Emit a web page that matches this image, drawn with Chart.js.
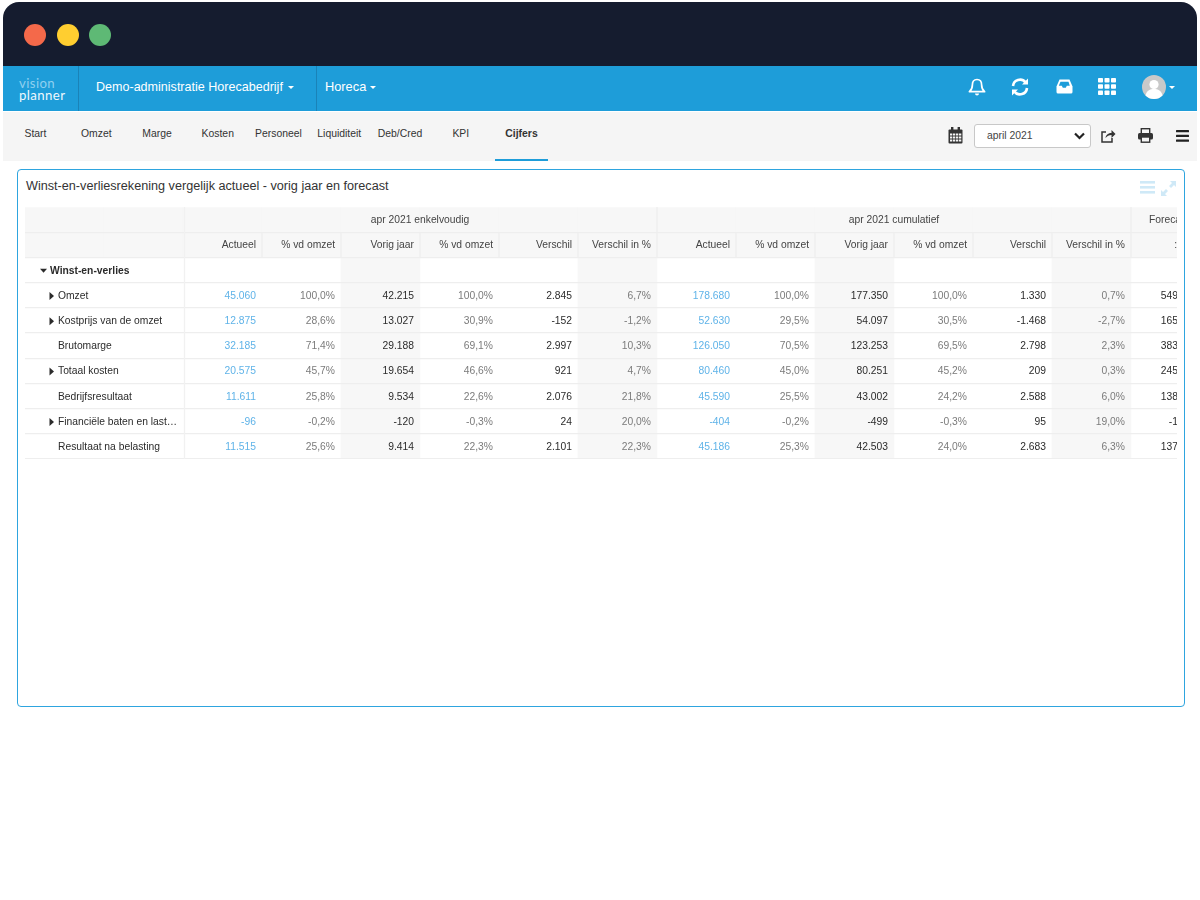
<!DOCTYPE html>
<html>
<head>
<meta charset="utf-8">
<title>Winst-en-verliesrekening</title>
<script src="https://cdn.jsdelivr.net/npm/chart.js@4"></script>
<style>
html, body { margin: 0; padding: 0; background: #fff; }
body { width: 1200px; height: 900px; position: relative; overflow: hidden; font-family: "Liberation Sans", Arial, sans-serif; }
.abs { position: absolute; }
.txt { position: absolute; white-space: nowrap; line-height: 1; }
.tab { position: absolute; top: 128px; font-size: 10.4px; line-height: 12px; color: #333; transform: translateX(-50%); white-space: nowrap; }
svg { position: absolute; overflow: visible; }
#tableWrap { position: absolute; left: 25px; top: 207px; width: 1152px; height: 254px; overflow: hidden; }
</style>
</head>
<body>
<!-- window -->
<div class="abs" style="left:3px;top:2px;width:1194px;height:64px;background:#151c2f;border-radius:16px 16px 0 0"></div>
<div class="abs" style="left:24px;top:24px;width:22px;height:22px;border-radius:50%;background:#f4694a"></div>
<div class="abs" style="left:57px;top:24px;width:22px;height:22px;border-radius:50%;background:#ffce30"></div>
<div class="abs" style="left:89px;top:24px;width:22px;height:22px;border-radius:50%;background:#5eb975"></div>

<!-- blue nav bar -->
<div class="abs" style="left:3px;top:66px;width:1194px;height:45px;background:#1e9dd9"></div>
<div class="abs" style="left:78px;top:66px;width:1px;height:45px;background:#1a83b8"></div>
<div class="abs" style="left:316px;top:66px;width:1px;height:45px;background:#1a83b8"></div>
<div class="txt" style="left:19px;top:75px;font:400 13.2px Lato,sans-serif;color:#8fd0f0;letter-spacing:.4px">vision</div>
<div class="txt" style="left:19px;top:87px;font:400 13.2px Lato,sans-serif;color:#eef8fd;letter-spacing:.4px">planner</div>
<div class="txt" style="left:96px;top:81px;font-size:12.55px;color:#fff">Demo-administratie Horecabedrijf</div>
<div class="abs" style="left:288px;top:86px;border:3px solid transparent;border-top-color:#fff"></div>
<div class="txt" style="left:325px;top:81px;font-size:12.8px;color:#fff">Horeca</div>
<div class="abs" style="left:370px;top:86px;border:3px solid transparent;border-top-color:#fff"></div>

<!-- nav icons -->
<svg style="left:968px;top:77px" width="18" height="20" viewBox="0 0 18 20" fill="none" stroke="#fff" stroke-width="1.7">
  <path d="M9 2.5c-3.2 0-4.6 2.4-4.6 5.2 0 3.6-1 5.4-3 7h15.2c-2-1.6-3-3.4-3-7 0-2.8-1.4-5.2-4.6-5.2z" stroke-linejoin="round"/>
  <path d="M7 16.5a2 2 0 0 0 4 0z" fill="#fff" stroke="none"/>
</svg>
<svg style="left:1010px;top:77px" width="20" height="20" viewBox="0 0 20 20" fill="none" stroke="#fff" stroke-width="2.6">
  <path d="M3 9a7 7 0 0 1 12.5-3.6"/><path d="M17 11a7 7 0 0 1-12.5 3.6"/>
  <path d="M18 1.5v6h-6z" fill="#fff" stroke="none"/><path d="M2 18.500v-6h6z" fill="#fff" stroke="none"/>
</svg>
<svg style="left:1056px;top:79px" width="17" height="15" viewBox="0 0 17 15">
  <path d="M3.500 0.500h10l3 7v5.500a1.500 1.500 0 0 1-1.500 1.500h-13a1.500 1.500 0 0 1-1.500-1.500v-5.500z" fill="#fff"/>
  <path d="M4.500 2.800h8l1.300 4h-3l-1 2h-3l-1-2h-3z" fill="#1e9dd9"/>
</svg>
<svg style="left:1098px;top:78px" width="18" height="17" viewBox="0 0 18 17" fill="#fff">
  <rect x="0" y="0" width="5" height="4.600" rx=".8"/><rect x="6.500" y="0" width="5" height="4.600" rx=".8"/><rect x="13" y="0" width="5" height="4.600" rx=".8"/>
  <rect x="0" y="6.200" width="5" height="4.600" rx=".8"/><rect x="6.500" y="6.200" width="5" height="4.600" rx=".8"/><rect x="13" y="6.200" width="5" height="4.600" rx=".8"/>
  <rect x="0" y="12.400" width="5" height="4.600" rx=".8"/><rect x="6.500" y="12.400" width="5" height="4.600" rx=".8"/><rect x="13" y="12.400" width="5" height="4.600" rx=".8"/>
</svg>
<svg style="left:1142px;top:75px" width="24" height="24" viewBox="0 0 24 24">
  <circle cx="12" cy="12" r="12" fill="#c9c9c9"/>
  <circle cx="12" cy="9.500" r="4.600" fill="#fff"/>
  <path d="M3.500 20.500c1-5 4.500-6.500 8.500-6.500s7.500 1.500 8.500 6.500a12 12 0 0 1-17 0z" fill="#fff"/>
</svg>
<div class="abs" style="left:1169px;top:86px;border:3px solid transparent;border-top-color:#fff"></div>

<!-- tab bar -->
<div class="abs" style="left:3px;top:112px;width:1194px;height:49px;background:#f5f5f5"></div>
<div class="abs" style="left:495px;top:159px;width:53px;height:2px;background:#1e9dd9"></div>
<div id="tabs"></div>

<!-- toolbar right -->
<svg style="left:948px;top:127px" width="15" height="17" viewBox="0 0 15 17">
  <rect x="0.500" y="2.500" width="14" height="14" rx="1" fill="#333"/>
  <rect x="3" y="0" width="2.400" height="4" fill="#333"/><rect x="9.600" y="0" width="2.400" height="4" fill="#333"/>
  <g fill="#f5f5f5">
    <rect x="2" y="6.500" width="2.300" height="2"/><rect x="5" y="6.500" width="2.300" height="2"/><rect x="8" y="6.500" width="2.300" height="2"/><rect x="11" y="6.500" width="2.300" height="2"/>
    <rect x="2" y="9.500" width="2.300" height="2"/><rect x="5" y="9.500" width="2.300" height="2"/><rect x="8" y="9.500" width="2.300" height="2"/><rect x="11" y="9.500" width="2.300" height="2"/>
    <rect x="2" y="12.500" width="2.300" height="2"/><rect x="5" y="12.500" width="2.300" height="2"/><rect x="8" y="12.500" width="2.300" height="2"/><rect x="11" y="12.500" width="2.300" height="2"/>
  </g>
</svg>
<div class="abs" style="left:974px;top:124px;width:115px;height:22px;background:#fff;border:1px solid #c8c8c8;border-radius:3px"></div>
<div class="txt" style="left:987px;top:131px;font-size:10.4px;color:#444">april 2021</div>
<svg style="left:1074px;top:132px" width="11" height="8" viewBox="0 0 11 8" fill="none" stroke="#222" stroke-width="2.200"><path d="M1 1.500l4.500 4.500 4.500-4.500"/></svg>
<svg style="left:1101px;top:129px" width="15" height="14" viewBox="0 0 15 14" fill="none" stroke="#333" stroke-width="1.500">
  <path d="M5 3h-4v10h10v-4"/><path d="M4.500 9c.5-3.500 3-5 6-5v-3l4 4-4 4v-3c-2.500 0-4.500 1-6 3z" fill="#333" stroke="none"/>
</svg>
<svg style="left:1138px;top:128px" width="15" height="15" viewBox="0 0 15 15">
  <rect x="3.300" y="0.700" width="8.400" height="5" fill="none" stroke="#333" stroke-width="1.400"/>
  <rect x="0" y="5" width="15" height="6.500" rx="1.500" fill="#333"/>
  <rect x="3.300" y="9" width="8.400" height="5.200" fill="#f5f5f5" stroke="#333" stroke-width="1.400"/>
</svg>
<svg style="left:1176px;top:130px" width="13" height="12" viewBox="0 0 13 12" fill="#222">
  <rect width="13" height="2.200" rx=".5"/><rect y="4.800" width="13" height="2.200" rx=".5"/><rect y="9.600" width="13" height="2.200" rx=".5"/>
</svg>

<!-- panel -->
<div class="abs" style="left:17px;top:169px;width:1166px;height:536px;border:1.500px solid #2ea5df;border-radius:4px;background:#fff"></div>
<div class="txt" style="left:26px;top:180px;font-size:12.650px;color:#333">Winst-en-verliesrekening vergelijk actueel - vorig jaar en forecast</div>
<svg style="left:1140px;top:181px" width="15" height="13" viewBox="0 0 15 13" fill="#cfe9f7">
  <rect width="15" height="2.600"/><rect y="5" width="15" height="2.600"/><rect y="10" width="15" height="2.600"/>
</svg>
<svg style="left:1161px;top:181px" width="15" height="15" viewBox="0 0 15 15" fill="#cfe9f7">
  <path d="M9 0h6v6l-2-2-3 3-2-2 3-3z"/><path d="M6 15h-6v-6l2 2 3-3 2 2-3 3z"/>
</svg>

<div id="tableWrap"><canvas id="pnlChart" width="1185" height="252"></canvas></div>

<script>
var tabLabels = ["Start","Omzet","Marge","Kosten","Personeel","Liquiditeit","Deb/Cred","KPI","Cijfers"];

var rowLabels = ["Omzet","Kostprijs van de omzet","Brutomarge","Totaal kosten","Bedrijfsresultaat","Financiële baten en last…","Resultaat na belasting"];
var rowExpandable = [true,true,false,true,false,true,false];
var groupLabel = "Winst-en-verlies";

var columnKeys = ["naam","naam2","act1","actPct1","vj1","vjPct1","ver1","verPct1","act2","actPct2","vj2","vjPct2","ver2","verPct2","fc"];
var subHeaders = ["Actueel","% vd omzet","Vorig jaar","% vd omzet","Verschil","Verschil in %"];
var periodSingle = "apr 2021 enkelvoudig";
var periodCumulative = "apr 2021 cumulatief";
var periodForecast = "Forecast";

// apr 2021 enkelvoudig
var actueel1 = [45060,12875,32185,20575,11611,-96,11515];
var actueelPct1 = [100.0,28.6,71.4,45.7,25.8,-0.2,25.6];
var vorigJaar1 = [42215,13027,29188,19654,9534,-120,9414];
var vorigPct1 = [100.0,30.9,69.1,46.6,22.6,-0.3,22.3];
var verschil1 = [2845,-152,2997,921,2076,24,2101];
var verschilPct1 = [6.7,-1.2,10.3,4.7,21.8,20.0,22.3];

// apr 2021 cumulatief
var actueel2 = [178680,52630,126050,80460,45590,-404,45186];
var actueelPct2 = [100.0,29.5,70.5,45.0,25.5,-0.2,25.3];
var vorigJaar2 = [177350,54097,123253,80251,43002,-499,42503];
var vorigPct2 = [100.0,30.5,69.5,45.2,24.2,-0.3,24.0];
var verschil2 = [1330,-1468,2798,209,2588,95,2683];
var verschilPct2 = [0.7,-2.7,2.3,0.3,6.0,19.0,6.3];

// forecast column is cut off in the picture, only first digits can be read
var forecast = [549000,165000,383000,245000,138000,-1000,137000];

var BLUE = "#5fb3e8", GREY = "#7b7b7b", DARK = "#2b2b2b";
var FONT = '10.3px "Liberation Sans", Arial, sans-serif';
var TEXT_DROP = 0.8; // text sits a bit under the row centre

tabLabels.forEach(function(t, i){
  var el = document.createElement("div");
  el.className = "tab";
  el.textContent = t;
  el.style.left = (35.5 + i * 60.75) + "px";
  if (t === "Cijfers") { el.style.fontWeight = "bold"; }
  document.getElementById("tabs").appendChild(el);
});

function fmtInt(v){
  var s = Math.abs(v).toString().replace(/\B(?=(\d{3})+$)/g, ".");
  return (v < 0 ? "-" : "") + s;
}
function fmtPct(v){
  return v.toFixed(1).replace(".", ",") + "%";
}

function columnSet(key, values, fmt, color){
  return {
    type: "line",
    showLine: false,
    pointRadius: 0,
    pointHoverRadius: 0,
    cellColor: color,
    cellFormat: fmt,
    cellKey: key,
    data: values.map(function(v, i){ return {x: key, y: i + 3.5, v: v}; })
  };
}

var headerCols = columnKeys.map(function(){ return [0, 2]; });
var shadedCols = columnKeys.map(function(k){ return /^(vj|verPct)\d$/.test(k) ? [2, 10] : null; });

var cellSets = [
  columnSet("act1", actueel1, fmtInt, BLUE),
  columnSet("actPct1", actueelPct1, fmtPct, GREY),
  columnSet("vj1", vorigJaar1, fmtInt, DARK),
  columnSet("vjPct1", vorigPct1, fmtPct, GREY),
  columnSet("ver1", verschil1, fmtInt, DARK),
  columnSet("verPct1", verschilPct1, fmtPct, GREY),
  columnSet("act2", actueel2, fmtInt, BLUE),
  columnSet("actPct2", actueelPct2, fmtPct, GREY),
  columnSet("vj2", vorigJaar2, fmtInt, DARK),
  columnSet("vjPct2", vorigPct2, fmtPct, GREY),
  columnSet("ver2", verschil2, fmtInt, DARK),
  columnSet("verPct2", verschilPct2, fmtPct, GREY),
  columnSet("fc", forecast, fmtInt, DARK)
];

// draws header text, separators and the cell values on top of the scales
var tableText = {
  id: "tableText",
  afterDraw: function(chart){
    var ctx = chart.ctx, x = chart.scales.x, y = chart.scales.y;
    var band = x.getPixelForValue(1) - x.getPixelForValue(0);
    function right(i){ return x.getPixelForValue(i) + band / 2; }
    function left(i){ return x.getPixelForValue(i) - band / 2; }
    function rowY(v){ return y.getPixelForValue(v) + TEXT_DROP; }

    // vertical separators in the header rows
    ctx.save();
    ctx.lineWidth = 1.3;
    function vline(px, from, to){
      ctx.beginPath();
      ctx.moveTo(px, y.getPixelForValue(from));
      ctx.lineTo(px, y.getPixelForValue(to));
      ctx.stroke();
    }
    ctx.strokeStyle = "#f1f1f1";
    vline(left(2) + 1.5, 0, 10);
    ctx.strokeStyle = "#eeeeee";
    [8, 14].forEach(function(i){ vline(left(i), 0, 1); });
    for (var i = 3; i < 15; i++) { vline(left(i), 1, 2); }
    ctx.restore();

    ctx.save();
    ctx.font = FONT;
    ctx.textBaseline = "middle";

    // period headers
    ctx.fillStyle = "#444";
    ctx.textAlign = "center";
    ctx.fillText(periodSingle, left(5), rowY(0.5));
    ctx.fillText(periodCumulative, left(11), rowY(0.5));
    ctx.fillText(periodForecast, x.getPixelForValue(14) - 1.5, rowY(0.5));

    // column headers
    ctx.textAlign = "right";
    for (var c = 2; c < 14; c++) {
      ctx.fillText(subHeaders[(c - 2) % 6], right(c) - 6, rowY(1.5));
    }
    ctx.fillText(":", left(14) + 46, rowY(1.5));

    // row labels
    ctx.textAlign = "left";
    ctx.fillStyle = DARK;
    var rowLeft = left(0);
    ctx.font = 'bold ' + FONT;
    var gy = rowY(2.5);
    ctx.fillText(groupLabel, rowLeft + 25, gy);
    ctx.beginPath();
    ctx.moveTo(rowLeft + 15, gy - 2);
    ctx.lineTo(rowLeft + 22, gy - 2);
    ctx.lineTo(rowLeft + 18.5, gy + 2);
    ctx.closePath();
    ctx.fill();

    ctx.font = FONT;
    rowLabels.forEach(function(name, r){
      var py = rowY(r + 3.5);
      ctx.fillText(name, rowLeft + 33, py);
      if (rowExpandable[r]) {
        ctx.beginPath();
        ctx.moveTo(rowLeft + 24.5, py - 4);
        ctx.lineTo(rowLeft + 29, py);
        ctx.lineTo(rowLeft + 24.5, py + 4);
        ctx.closePath();
        ctx.fill();
      }
    });

    // values
    ctx.textAlign = "right";
    chart.data.datasets.forEach(function(ds, d){
      if (!ds.cellFormat) { return; }
      var pad = ds.cellKey === "fc" ? 12 : 6;
      ctx.fillStyle = ds.cellColor;
      chart.getDatasetMeta(d).data.forEach(function(pt, i){
        ctx.fillText(ds.cellFormat(ds.data[i].v), pt.x + band / 2 - pad, pt.y + TEXT_DROP);
      });
    });
    ctx.restore();
  }
};

var pnlConfig = {
  type: "bar",
  data: {
    labels: columnKeys,
    datasets: [
      { data: headerCols, backgroundColor: "#f7f7f7", barPercentage: 1, categoryPercentage: 1, grouped: false, borderWidth: 0 },
      { data: shadedCols, backgroundColor: "#f7f7f7", barPercentage: 1, categoryPercentage: 1, grouped: false, borderWidth: 0 }
    ].concat(cellSets)
  },
  options: {
    responsive: false,
    animation: false,
    events: [],
    layout: { padding: 0 },
    plugins: { legend: { display: false }, tooltip: { enabled: false }, title: { display: false } },
    scales: {
      x: { display: false, offset: true },
      y: {
        min: 0, max: 10, reverse: true,
        ticks: { display: false, stepSize: 1 },
        border: { display: false },
        grid: {
          z: 1,
          drawTicks: false,
          lineWidth: 1.3,
          color: function(c){ return c.tick.value < 1 ? "transparent" : "#eeeeee"; }
        }
      }
    }
  },
  plugins: [tableText]
};

var ctxPnl = document.getElementById("pnlChart").getContext("2d");
var chartPnl = new Chart(ctxPnl, pnlConfig);
</script>
</body>
</html>
